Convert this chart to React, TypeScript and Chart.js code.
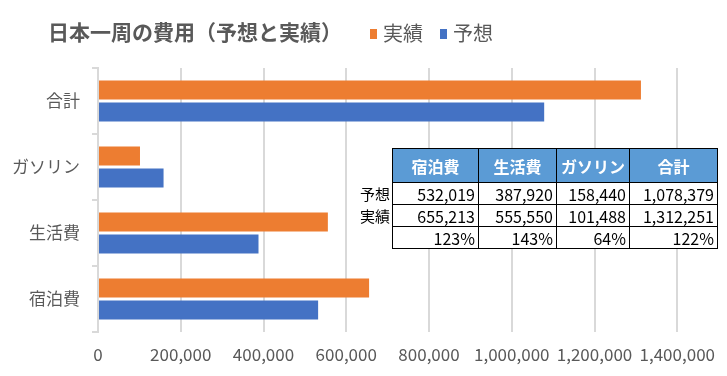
import React, { useEffect, useRef } from "react";
import { Chart, registerables } from "chart.js";

Chart.register(...registerables);

const categories = ["合計", "ガソリン", "生活費", "宿泊費"];
const actualValues = [1312251, 101488, 555550, 655213];
const forecastValues = [1078379, 158440, 387920, 532019];
const seriesNames = ["実績", "予想"];
const seriesColors = ["#ED7D31", "#4472C4"];
const xTicks = [0, 200000, 400000, 600000, 800000, 1000000, 1200000, 1400000];
const tableColumns = ["宿泊費", "生活費", "ガソリン", "合計"];
const titleText = "日本一周の費用（予想と実績）";

const FONT = '"Noto Sans CJK JP", "Noto Sans", sans-serif';
const GRAY = "#595959";
const fmt = (v: number) => v.toLocaleString("en-US");

const titleLegendPlugin = {
  id: "titleLegend",
  afterDraw(chart: any) {
    const ctx = chart.ctx;
    ctx.save();
    ctx.fillStyle = GRAY;
    ctx.font = `bold 21px ${FONT}`;
    ctx.textBaseline = "middle";
    ctx.textAlign = "left";
    ctx.fillText(titleText, 48, 32);
    const ds = chart.data.datasets;
    let x = 370;
    ctx.font = `20px ${FONT}`;
    ds.forEach((d: any) => {
      ctx.fillStyle = d.backgroundColor;
      ctx.fillRect(x, 29, 7, 10);
      ctx.fillStyle = GRAY;
      ctx.fillText(d.label, x + 13, 33);
      x += 13 + ctx.measureText(d.label).width + 17;
    });
    ctx.restore();
  },
};

function DataTable() {
  const order = tableColumns.map((c) => categories.indexOf(c));
  const cell: React.CSSProperties = {
    border: "1px solid #000",
    textAlign: "right",
    padding: "0 3px 0 0",
    height: 21,
    lineHeight: "20px",
  };
  const labelCell: React.CSSProperties = {
    border: "none",
    textAlign: "right",
    padding: "0 2px 0 0",
    fontSize: 15,
    color: "#000",
  };
  const widths = [85, 77, 72, 87];
  return (
    <table
      style={{
        position: "absolute",
        left: 356,
        top: 148,
        borderCollapse: "collapse",
        fontFamily: FONT,
        fontSize: 16,
        color: "#000",
        background: "transparent",
      }}
    >
      <tbody>
        <tr style={{ height: 34 }}>
          <td style={{ ...labelCell, width: 34 }}></td>
          {tableColumns.map((c, i) => (
            <td
              key={c}
              style={{
                border: "1px solid #000",
                background: "#5B9BD5",
                color: "#fff",
                fontWeight: "bold",
                fontSize: 16,
                textAlign: "center",
                width: widths[i],
                padding: 0,
              }}
            >
              {c}
            </td>
          ))}
        </tr>
        <tr>
          <td style={labelCell}>{seriesNames[1]}</td>
          {order.map((k, i) => (
            <td key={i} style={{ ...cell, background: "#fff" }}>{fmt(forecastValues[k])}</td>
          ))}
        </tr>
        <tr>
          <td style={labelCell}>{seriesNames[0]}</td>
          {order.map((k, i) => (
            <td key={i} style={{ ...cell, background: "#fff" }}>{fmt(actualValues[k])}</td>
          ))}
        </tr>
        <tr>
          <td style={labelCell}></td>
          {order.map((k, i) => (
            <td key={i} style={{ ...cell, background: "#fff" }}>
              {Math.round((actualValues[k] / forecastValues[k]) * 100)}%
            </td>
          ))}
        </tr>
      </tbody>
    </table>
  );
}

export default function App() {
  const ref = useRef<HTMLCanvasElement>(null);
  useEffect(() => {
    if (!ref.current) return;
    const chart = new Chart(ref.current, {
      type: "bar",
      data: {
        labels: categories,
        datasets: [
          {
            label: seriesNames[0],
            data: actualValues,
            backgroundColor: seriesColors[0],
            categoryPercentage: 0.667,
            barPercentage: 0.86,
          },
          {
            label: seriesNames[1],
            data: forecastValues,
            backgroundColor: seriesColors[1],
            categoryPercentage: 0.667,
            barPercentage: 0.86,
          },
        ],
      },
      options: {
        indexAxis: "y",
        responsive: false,
        animation: false,
        layout: { padding: { top: 68, right: 46, left: 0, bottom: 0 } },
        plugins: {
          legend: { display: false },
          title: { display: false },
          tooltip: { enabled: false },
        },
        scales: {
          x: {
            min: 0,
            max: 1400000,
            afterFit: (s: any) => {
              s.height = 44;
            },
            afterBuildTicks: (s: any) => {
              s.ticks = xTicks.map((v) => ({ value: v }));
            },
            border: { display: false },
            grid: { color: "#D9D9D9", lineWidth: 2, drawTicks: false },
            ticks: {
              padding: 12,
              color: GRAY,
              font: { family: FONT, size: 17 },
              callback: (v: any) => fmt(Number(v)),
              maxRotation: 0,
            },
          },
          y: {
            afterFit: (s: any) => {
              s.width = 98;
            },
            border: { display: true, color: "#D9D9D9", width: 2 },
            grid: {
              drawOnChartArea: false,
              drawTicks: true,
              tickLength: 6,
              offset: true,
              color: "#D9D9D9",
              lineWidth: 2,
            },
            ticks: {
              padding: 12,
              color: GRAY,
              font: { family: FONT, size: 17 },
            },
          },
        },
      },
      plugins: [titleLegendPlugin],
    } as any);
    return () => chart.destroy();
  }, []);
  return (
    <div style={{ position: "absolute", left: 0, top: 0, width: 727, height: 376, background: "#fff" }}>
      <canvas ref={ref} width={727} height={376} style={{ display: "block" }} />
      <DataTable />
    </div>
  );
}
